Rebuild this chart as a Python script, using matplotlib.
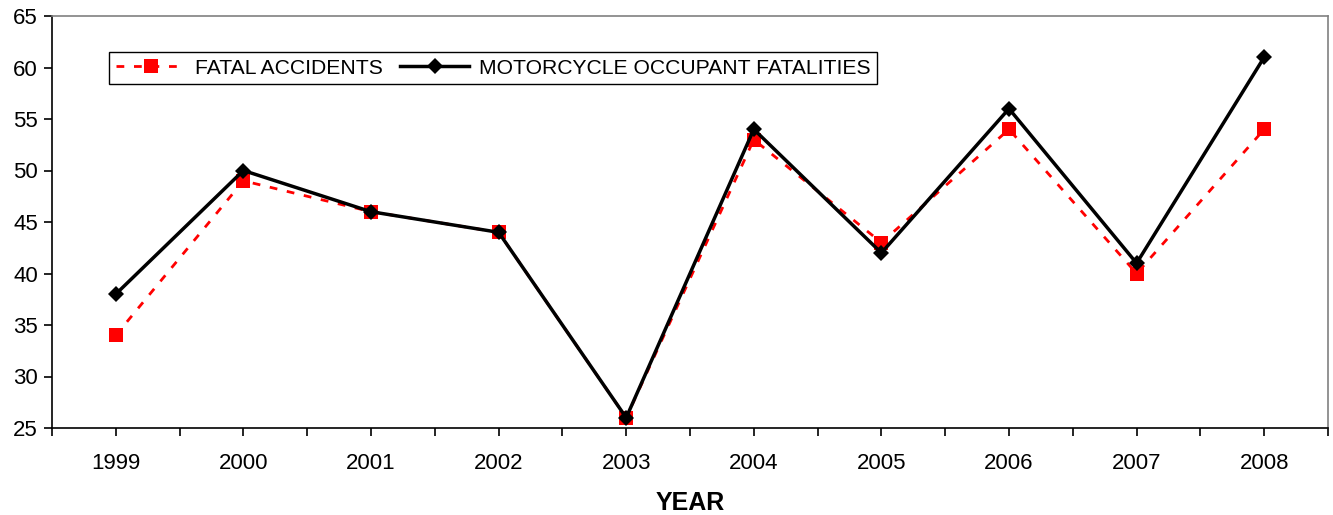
import matplotlib
matplotlib.use("Agg")
import matplotlib.pyplot as plt
import numpy as np

years = ["1999", "2000", "2001", "2002", "2003", "2004", "2005", "2006", "2007", "2008"]
fatal_accidents = [34, 49, 46, 44, 26, 53, 43, 54, 40, 54]
occupant_fatalities = [38, 50, 46, 44, 26, 54, 42, 56, 41, 61]

plt.rcParams["font.family"] = ["Liberation Sans", "DejaVu Sans"]

fig = plt.figure(figsize=(13.33, 5.15), dpi=100)
ax = fig.add_axes([52 / 1333, 1 - 428 / 515, 1276 / 1333, 412 / 515])

x = np.arange(len(years))
ax.plot(x, fatal_accidents, color="#ff0000", linestyle=(0, (2.8, 3.5)), linewidth=2.0,
        marker="s", markersize=10.5, markeredgewidth=0, label="FATAL ACCIDENTS", zorder=2)
ax.plot(x, occupant_fatalities, color="black", linewidth=2.5,
        marker="D", markersize=8, markeredgewidth=0, label="MOTORCYCLE OCCUPANT FATALITIES", zorder=3)

ax.set_xlim(-0.5, len(years) - 0.5)
ax.set_ylim(25, 65)
ax.set_yticks(np.arange(25, 66, 5))
ax.set_xticks(x)
ax.set_xticklabels(years)
ax.set_xticks(np.arange(-0.5, len(years), 1.0), minor=True)

ax.tick_params(axis="both", which="both", direction="out", length=6, width=1.2, colors="black", labelsize=16)
ax.tick_params(axis="x", which="major", pad=12)
ax.tick_params(axis="y", pad=4)

for side in ("top", "right"):
    ax.spines[side].set_color("#808080")
    ax.spines[side].set_linewidth(1.2)
for side in ("left", "bottom"):
    ax.spines[side].set_color("black")
    ax.spines[side].set_linewidth(1.2)

ax.set_xlabel("YEAR", fontsize=18, fontweight="bold", labelpad=12)

leg = ax.legend(loc="upper left", bbox_to_anchor=(0.045, 0.912), ncol=2, fontsize=15.2,
                frameon=True, fancybox=False, edgecolor="black", framealpha=1,
                handlelength=3.3, handletextpad=0.45, columnspacing=0.8,
                borderpad=0.3, borderaxespad=0)
leg.get_frame().set_linewidth(1.0)

fig.savefig("out.png", dpi=100)
